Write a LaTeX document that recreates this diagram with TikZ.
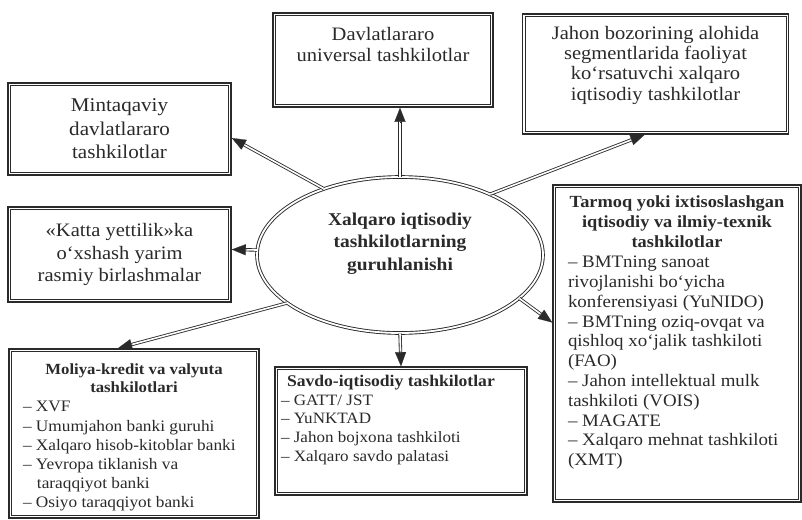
\documentclass[tikz,border=0pt]{standalone}
\usepackage{fontspec}
\setmainfont{Liberation Serif}[FakeStretch=1.08]
\usetikzlibrary{arrows.meta,shapes.geometric,calc}
\definecolor{ink}{HTML}{2A2A2A}
\newcommand\bt[3]{\begin{minipage}[c][#2][t]{#1}#3\end{minipage}}
\newcommand\conn[2]{\draw[dshaft] #1 -- #2;
  \draw[dhead] ($#2!15pt!#1$) -- #2;}
\tikzset{
  dbox/.style={rectangle, draw=ink, line width=1.6pt, inner sep=0pt, text=ink,
    append after command={\pgfextra{\draw[ink, line width=0.6pt]
      ([shift={(3.2pt,-3.2pt)}]\tikzlastnode.north west) rectangle
      ([shift={(-3.2pt,3.2pt)}]\tikzlastnode.south east);}}},
  dell/.style={ellipse, draw=ink, double=white, double distance=1.8pt, line width=0.9pt,
    inner sep=0pt, minimum width=286pt, minimum height=156pt, text=ink},
  dshaft/.style={draw=ink, double=white, double distance=1.6pt, line width=0.85pt,
    shorten >=12pt},
  dhead/.style={draw=ink, line width=0.2pt, -{Triangle[length=14pt,width=11pt]}},
}
\begin{document}
\begin{tikzpicture}[x=1pt,y=-1pt]
\useasboundingbox (0,0) rectangle (802,519);
\fill[white] (0,0) rectangle (802,519);

\node[dbox] (dav) at (383,60)
  {\bt{220pt}{94pt}{\centering\fontsize{19}{21.5}\selectfont\vspace*{14pt}
   Davlatlararo\\universal tashkilotlar\par}};

\node[dbox] (jah) at (655.5,74)
  {\bt{266pt}{120pt}{\centering\fontsize{19}{20.3}\selectfont\vspace*{12pt}
   Jahon bozorining alohida\\segmentlarida faoliyat\\ko‘rsatuvchi xalqaro\\iqtisodiy tashkilotlar\par}};

\node[dbox] (mint) at (119.5,129)
  {\begin{minipage}[c][92pt][c]{223pt}\centering\fontsize{19.5}{23.5}\selectfont
   Mintaqaviy\\davlatlararo\\tashkilotlar\par\end{minipage}};

\node[dbox] (katta) at (119.5,254.5)
  {\begin{minipage}[c][95pt][c]{223pt}\centering\fontsize{19}{22.5}\selectfont
   «Katta yettilik»ka\\o‘xshash yarim\\rasmiy birlashmalar\par\end{minipage}};

\node[dell] (ell) at (400,255)
  {\bt{190pt}{106pt}{\centering\fontsize{18}{22.5}\selectfont\bfseries\vspace*{11pt}
   Xalqaro iqtisodiy\\tashkilotlarning\\guruhlanishi\par}};

\node[dbox] (sav) at (401,431)
  {\bt{252pt}{128pt}{\raggedright\leftskip=6pt\rightskip=-20pt plus 1fil\vspace*{8pt}
   {\fontsize{16.3}{18}\selectfont\bfseries\hspace*{6pt}Savdo-iqtisodiy tashkilotlar\par}
   \fontsize{15.8}{18.7}\selectfont
   – GATT/ JST\\– YuNKTAD\\– Jahon bojxona tashkiloti\\– Xalqaro savdo palatasi\par}};

\node[dbox] (tar) at (677,343.5)
  {\bt{248pt}{317pt}{\vspace*{11pt}
   {\centering\fontsize{17}{20}\selectfont\bfseries Tarmoq yoki ixtisoslashgan\\iqtisodiy va ilmiy-texnik\\tashkilotlar\par}
   \raggedright\leftskip=15pt\rightskip=-30pt plus 1fil\fontsize{17.5}{19.8}\selectfont
   – BMTning sanoat\\rivojlanishi bo‘yicha\\konferensiyasi (YuNIDO)\\– BMTning oziq-ovqat va\\qishloq xo‘jalik tashkiloti\\(FAO)\\– Jahon intellektual mulk\\tashkiloti (VOIS)\\– MAGATE\\– Xalqaro mehnat tashkiloti\\(XMT)\par}};

\node[dbox] (mol) at (134,433.5)
  {\bt{250pt}{169pt}{\vspace*{15pt}
   {\centering\fontsize{15.5}{18}\selectfont\bfseries Moliya-kredit va valyuta\\tashkilotlari\par}
   \raggedright\leftskip=14pt\rightskip=-20pt plus 1fil\fontsize{16}{19.2}\selectfont
   – XVF\\– Umumjahon banki guruhi\\– Xalqaro hisob-kitoblar banki\\– Yevropa tiklanish va\\\hspace*{14pt}taraqqiyot banki\\– Osiyo taraqqiyot banki\par}};

\conn{(ell.north)}{(ell.north |- dav.south)}
\conn{(ell.139)}{([yshift=-9pt]mint.east)}
\conn{(ell.178)}{([yshift=5pt]katta.east)}
\conn{(ell.34)}{([xshift=-11pt]jah.south)}
\conn{(ell.-20)}{([yshift=21pt]tar.west)}
\conn{(ell.south)}{(sav.north)}
\conn{(ell.203)}{([xshift=-16pt]mol.north)}
\end{tikzpicture}
\end{document}
